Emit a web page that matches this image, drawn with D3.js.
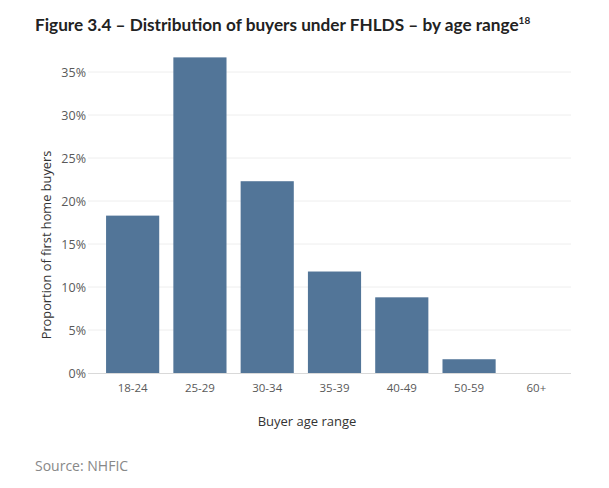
<!DOCTYPE html>
<html>
<head>
<meta charset="utf-8">
<script src="https://cdn.jsdelivr.net/npm/d3@7"></script>
<style>
  body { margin: 0; background: #fff; }
</style>
</head>
<body>
<div id="chart"></div>
<script>
// Age ranges and share of first home buyers (%)
const ageRanges = ["18-24", "25-29", "30-34", "35-39", "40-49", "50-59", "60+"];
const shares = [18.3, 36.7, 22.3, 11.8, 8.8, 1.6, 0];
const yTicks = [0, 5, 10, 15, 20, 25, 30, 35];

const W = 609, H = 488;

const svg = d3.select("#chart")
    .append("svg")
    .attr("width", W)
    .attr("height", H);

// Title
const title = svg.append("text")
    .attr("x", 35)
    .attr("y", 31)
    .attr("font-family", "Lato, 'Open Sans', sans-serif")
    .attr("font-weight", "bold")
    .attr("font-size", 17.2)
    .attr("fill", "#222");
title.append("tspan").text("Figure 3.4 \u2013 Distribution of buyers under FHLDS \u2013 by age range");
title.append("tspan")
    .attr("font-size", 10)
    .attr("dy", -7)
    .text("18");

const x = d3.scaleBand()
    .domain(ageRanges)
    .range([99, 570])
    .paddingInner(0.21)
    .paddingOuter(0.105);

const y = d3.scaleLinear()
    .domain([0, 35])
    .range([373, 72]);

// Gridlines
svg.append("g")
    .selectAll("line")
    .data(yTicks.slice(1))
    .enter()
    .append("line")
    .attr("x1", 88)
    .attr("x2", 571)
    .attr("y1", d => y(d))
    .attr("y2", d => y(d))
    .attr("stroke", "#eeeeee")
    .attr("stroke-width", 1);

// Bars
svg.append("g")
    .selectAll("rect")
    .data(shares)
    .enter()
    .append("rect")
    .attr("x", (d, i) => x(ageRanges[i]))
    .attr("y", d => y(d))
    .attr("width", x.bandwidth())
    .attr("height", d => y(0) - y(d))
    .attr("fill", "#527598");

// Baseline
svg.append("line")
    .attr("x1", 88)
    .attr("x2", 571)
    .attr("y1", y(0) + 0.5)
    .attr("y2", y(0) + 0.5)
    .attr("stroke", "#d9d9d9")
    .attr("stroke-width", 1);

// Y axis
const yAxis = svg.append("g")
    .attr("transform", "translate(89,0)")
    .call(d3.axisLeft(y).tickValues(yTicks).tickFormat(d => d + "%").tickSize(0).tickPadding(3));
yAxis.select(".domain").remove();
yAxis.selectAll("text")
    .attr("font-family", "'Open Sans', sans-serif")
    .attr("font-size", 12.5)
    .attr("fill", "#595959");

// X axis
const xAxis = svg.append("g")
    .attr("transform", "translate(0," + y(0) + ")")
    .call(d3.axisBottom(x).tickSize(0).tickPadding(11));
xAxis.select(".domain").remove();
xAxis.selectAll("text")
    .attr("font-family", "'Open Sans', sans-serif")
    .attr("font-size", 11.5)
    .attr("fill", "#595959");

// Axis titles
svg.append("text")
    .attr("x", 307)
    .attr("y", 426)
    .attr("text-anchor", "middle")
    .attr("font-family", "'Open Sans', sans-serif")
    .attr("font-size", 13)
    .attr("fill", "#333")
    .text("Buyer age range");

svg.append("text")
    .attr("transform", "translate(51,245) rotate(-90)")
    .attr("text-anchor", "middle")
    .attr("font-family", "'Open Sans', sans-serif")
    .attr("font-size", 12.8)
    .attr("fill", "#333")
    .text("Proportion of first home buyers");

// Source
svg.append("text")
    .attr("x", 35)
    .attr("y", 471)
    .attr("font-family", "'Open Sans', sans-serif")
    .attr("font-size", 14)
    .attr("fill", "#888")
    .text("Source: NHFIC");
</script>
</body>
</html>
